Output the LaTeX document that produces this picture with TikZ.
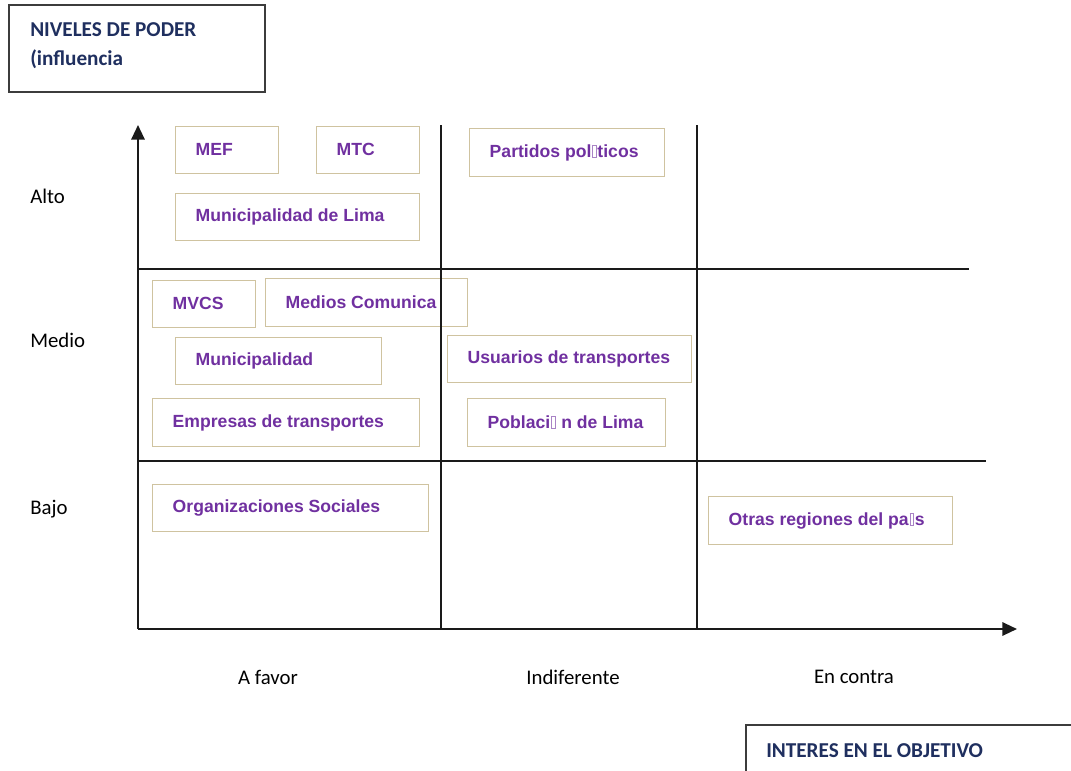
\documentclass[tikz,border=0pt]{standalone}
\usepackage{fontspec}
\setmainfont{Carlito}
\newfontfamily\arialfont{Liberation Sans}
\usetikzlibrary{arrows.meta}
\definecolor{boxline}{HTML}{CFC3A0}
\definecolor{boxtext}{HTML}{7030A0}
\definecolor{navy}{HTML}{1F2F5F}
\definecolor{gridline}{HTML}{1A1A1A}
\newcommand\nog{\hbox{\kern0.6pt{\color{boxtext!60}\fboxsep0pt\fboxrule0.35pt\fbox{\rule{0pt}{0.66em}\kern0.2em}}\kern0.6pt}}
\tikzset{
  stk/.style={draw=boxline, line width=1.1pt, fill=white, anchor=north west,
    inner xsep=15pt, inner ysep=0pt, font=\arialfont\bfseries\fontsize{13.2}{15}\selectfont,
    text=boxtext},
  grid/.style={draw=gridline, line width=1.6pt},
  axis/.style={grid, -{Triangle[length=11pt,width=10pt]}},
  lbl/.style={font=\fontsize{15.6}{18}\selectfont, inner sep=0pt},
  title/.style={draw=gridline!85, line width=1.4pt, fill=white},
  titletext/.style={font=\bfseries\fontsize{15.9}{19}\selectfont, text=navy, inner sep=0pt, anchor=west}
}
\newcommand\stake[6]{%
  \node[stk, minimum width=#4*0.75pt, minimum height=#5*0.75pt] (#1) at (#2,#3)
    {\raisebox{1.5pt}{\makebox[\dimexpr 0.75pt*#4-30pt\relax][l]{#6}}};}
\begin{document}
\begin{tikzpicture}[x=0.75pt,y=-0.75pt]
\useasboundingbox (0,0) rectangle (1071,771);
% title boxes
\draw[title] (9,5) rectangle (265,92);
\node[titletext] (t1) at (30,30) {NIVELES DE PODER};
\node[titletext] (t2) at (30,59) {(influencia};
\draw[title] (746,725) rectangle (1080,780);
\node[titletext] (t3) at (766,751) {INTERES EN EL OBJETIVO};
% stakeholder boxes
\stake{mef}{175}{126}{103}{47}{MEF}
\stake{mtc}{316}{126}{103}{47}{MTC}
\stake{par}{469}{128}{195}{48}{Partidos pol\nog ticos}
\stake{mlima}{175}{193}{244}{47}{Municipalidad de Lima}
\stake{mvcs}{152}{280}{103}{47}{MVCS}
\stake{med}{265}{278}{202}{48}{Medios Comunica}
\stake{mun}{175}{337}{206}{47}{Municipalidad}
\stake{usu}{447}{335}{244}{47}{Usuarios de transportes}
\stake{emp}{152}{398}{267}{48}{Empresas de transportes}
\stake{pob}{467}{398}{198}{48}{Poblaci\nog\ n de Lima}
\stake{org}{152}{484}{276}{47}{Organizaciones Sociales}
\stake{otr}{708}{496}{244}{48}{Otras regiones del pa\nog s}
% grid
\coordinate (o) at (138,629);
\coordinate (ytip) at (138,125);
\coordinate (xtip) at (1017,629);
\draw[grid] (441,125) -- (441,629);
\draw[grid] (697,125) -- (697,629);
\draw[grid] (138,269) -- (969,269);
\draw[grid] (138,461) -- (986,461);
\draw[axis] (o) -- (ytip);
\draw[axis] (o) -- (xtip);
% labels
\node[lbl, anchor=west] (alto) at (30,196) {Alto};
\node[lbl, anchor=west] (medio) at (30,340) {Medio};
\node[lbl, anchor=west] (bajo) at (30,509) {Bajo};
\node[lbl] (fav) at (268,677) {A favor};
\node[lbl] (ind) at (573,677) {Indiferente};
\node[lbl] (con) at (854,677) {En contra};
\end{tikzpicture}
\end{document}
